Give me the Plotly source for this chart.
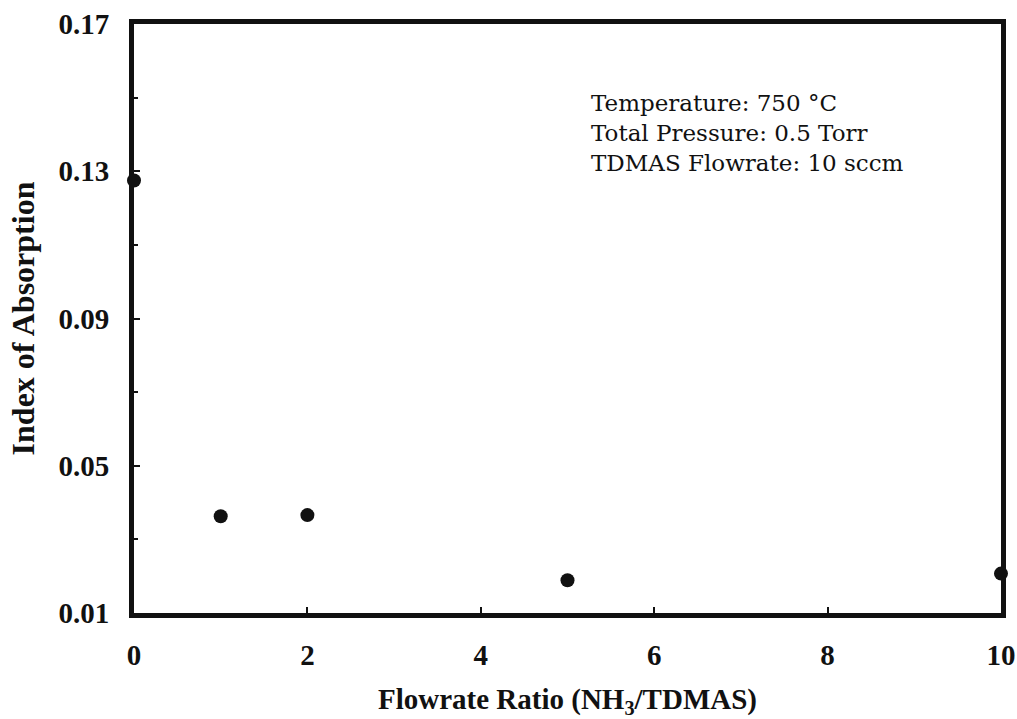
import plotly.graph_objects as go

# Flowrate ratio NH3/TDMAS and measured index of absorption
flow_ratio = [0, 1, 2, 5, 10]
absorption_index = [0.1275, 0.0363, 0.0366, 0.0189, 0.0207]

y_tick_vals = [0.01, 0.05, 0.09, 0.13, 0.17]
y_tick_text = ["0.01", "0.05", "0.09", "0.13", "0.17"]
x_tick_vals = [0, 2, 4, 6, 8, 10]
x_tick_text = ["0", "2", "4", "6", "8", "10"]

conditions = [
    "Temperature: 750 °C",
    "Total Pressure: 0.5 Torr",
    "TDMAS Flowrate: 10 sccm",
]

INK = "#111111"
SERIF = "Liberation Serif, Times New Roman, serif"

fig = go.Figure()
fig.add_trace(
    go.Scatter(
        x=flow_ratio,
        y=absorption_index,
        mode="markers",
        marker=dict(symbol="circle", size=14, color=INK),
        cliponaxis=False,
        showlegend=False,
    )
)

fig.update_layout(
    width=1017,
    height=719,
    margin=dict(l=134, r=16, t=24, b=106, pad=0),
    paper_bgcolor="white",
    plot_bgcolor="white",
    font=dict(family=SERIF, color=INK),
    annotations=[
        dict(
            text="<br>".join(conditions),
            xref="paper",
            yref="paper",
            x=0.525,
            y=0.892,
            xanchor="left",
            yanchor="top",
            align="left",
            showarrow=False,
            font=dict(family="DejaVu Serif, serif", size=23, color=INK),
        )
    ],
)

fig.update_xaxes(
    range=[0, 10],
    automargin=False,
    tickvals=x_tick_vals,
    ticktext=x_tick_text,
    tickfont=dict(family=SERIF, size=29, color=INK, weight="bold"),
    ticks="inside",
    ticklen=6,
    tickwidth=2,
    tickcolor=INK,
    ticklabelstandoff=12,
    showline=True,
    linewidth=5,
    linecolor=INK,
    mirror=True,
    showgrid=False,
    zeroline=False,
    title=dict(
        text="Flowrate Ratio (NH<sub>3</sub>/TDMAS)",
        font=dict(family=SERIF, size=29, color=INK, weight="bold"),
        standoff=22,
    ),
)

fig.update_yaxes(
    range=[0.01, 0.17],
    automargin=False,
    tickvals=y_tick_vals,
    ticktext=y_tick_text,
    tickfont=dict(family=SERIF, size=29, color=INK, weight="bold"),
    ticks="inside",
    ticklen=6,
    tickwidth=2,
    tickcolor=INK,
    ticklabelstandoff=14,
    minor=dict(tickvals=[0.03, 0.07, 0.11, 0.15], ticks="inside", ticklen=4, tickwidth=2, tickcolor=INK),
    showline=True,
    linewidth=5,
    linecolor=INK,
    mirror=True,
    showgrid=False,
    zeroline=False,
    title=dict(
        text="Index of Absorption",
        font=dict(family=SERIF, size=32, color=INK, weight="bold"),
        standoff=16,
    ),
)

fig.write_html("out.html")
